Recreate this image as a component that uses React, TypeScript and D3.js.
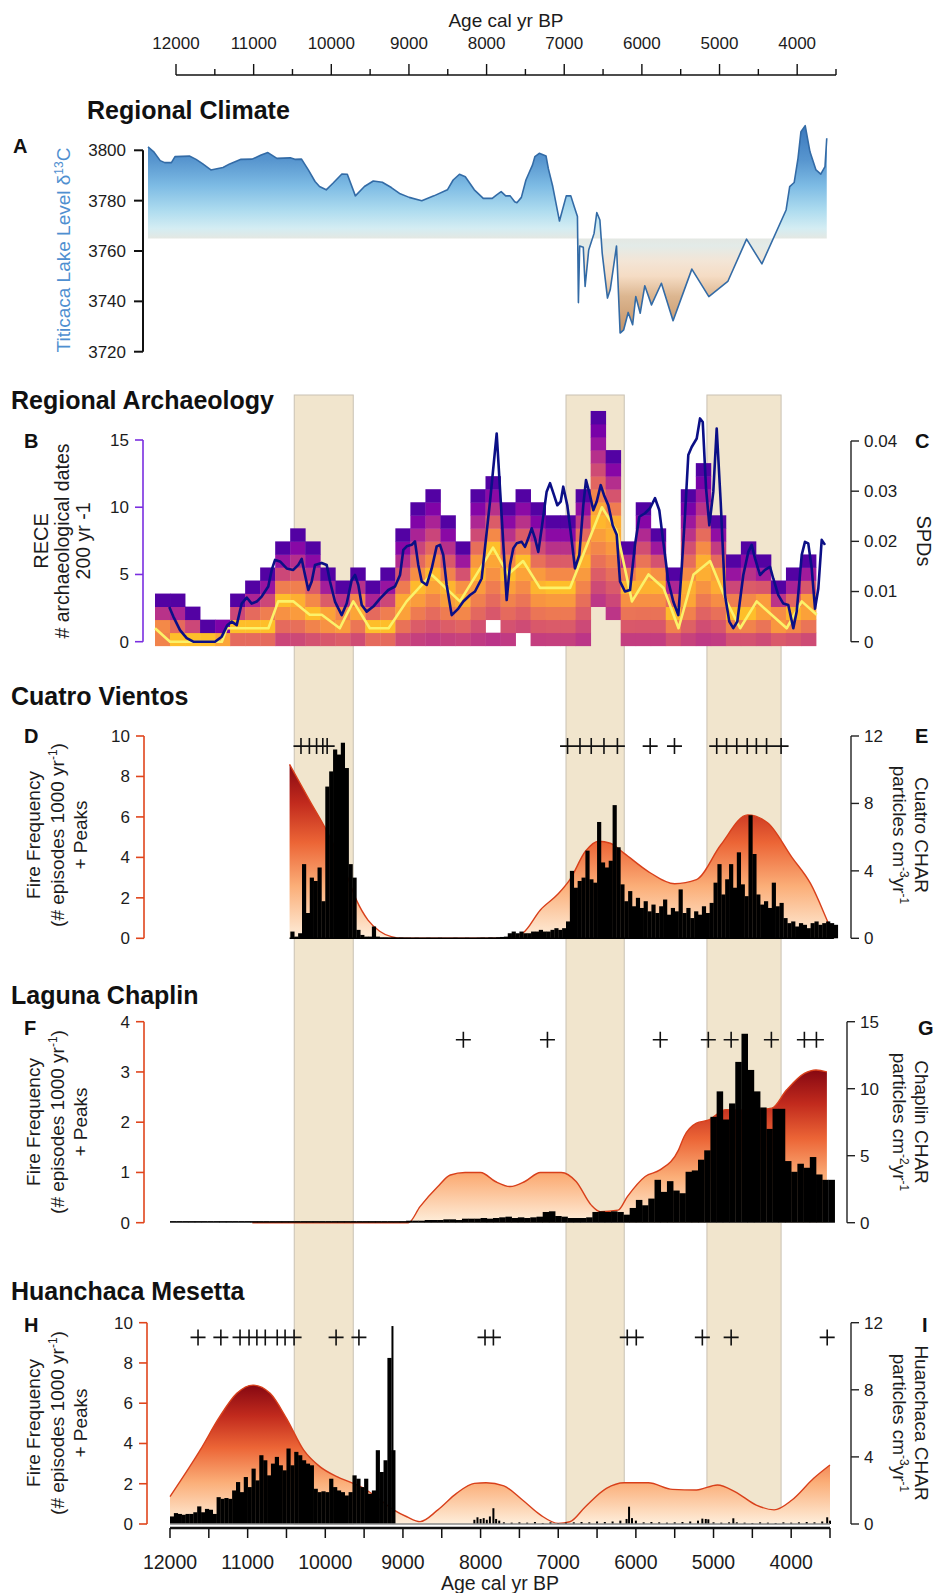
import * as d3 from "d3";

const FONT = "'Liberation Sans', Arial, Helvetica, sans-serif";

// ---------- shared age axis ----------
const ageMajor = [12000, 11000, 10000, 9000, 8000, 7000, 6000, 5000, 4000];
const ageMinor = [11500, 10500, 9500, 8500, 7500, 6500, 5500, 4500, 3500];

// shaded intervals (cal yr BP)
const bandAges = [
  [10400, 9640],
  [6900, 6150],
  [5085, 4130],
];

// ---------- A: Titicaca lake level ----------
const lakeAge = [
  12000, 11931, 11847, 11791, 11707, 11662, 11482, 11398, 11314, 11213, 11061, 10977, 10836, 10696, 10584,
  10499, 10386, 10219, 10162, 10078, 9993, 9909, 9853, 9769, 9685, 9573, 9505, 9404, 9291, 9180, 9067, 8954,
  8843, 8730, 8573, 8421, 8252, 8180, 8101, 8028, 7915, 7803, 7691, 7635, 7579, 7522, 7466, 7410, 7382, 7326,
  7269, 7224, 7186, 7157, 7102, 7017, 6989, 6933, 6849, 6764, 6707, 6664, 6624, 6612, 6596, 6551, 6528, 6483,
  6416, 6382, 6343, 6314, 6248, 6214, 6135, 6090, 6045, 5989, 5933, 5894, 5838, 5781, 5697, 5573, 5427, 5192,
  4979, 4742, 4507, 4315, 4012, 3967, 3911, 3863, 3826, 3773, 3713, 3638, 3578, 3525, 3503,
];
const lakeLevel = [
  3801.4, 3799.5, 3795.9, 3795.1, 3795.1, 3797.5, 3797.7, 3796.4, 3794.6, 3792.2, 3793.2, 3794.6, 3796.4,
  3796.5, 3798.1, 3799.1, 3796.8, 3797, 3796.4, 3796.5, 3792.2, 3787.6, 3785.6, 3784.3, 3786.9, 3790.6, 3790.5,
  3781.9, 3785.6, 3787.8, 3787.3, 3785.2, 3782.7, 3781.3, 3780, 3781.9, 3784.3, 3788.2, 3790.5, 3789.5, 3784.3,
  3780.9, 3780.9, 3782.3, 3783.6, 3781.9, 3781.9, 3779.6, 3779.2, 3781.3, 3788.2, 3791.5, 3794.2, 3797.5,
  3798.8, 3797.7, 3792.8, 3785.6, 3771.9, 3781.9, 3781.9, 3777.6, 3773.7, 3739.5, 3762, 3761.5, 3745.9, 3760.4,
  3767, 3775.3, 3772.3, 3759.1, 3741.3, 3744.6, 3762, 3727.4, 3728.7, 3735.6, 3730.7, 3741.9, 3735.3, 3746.2,
  3738.6, 3747.2, 3732.3, 3752.8, 3741.9, 3747.9, 3764.7, 3754.9, 3776.3, 3785.6, 3787.2, 3796.8, 3807.4,
  3809.8, 3799.4, 3792.2, 3790.5, 3793.5, 3804.8,
];
const lakeBase = 3765;
const lakeTicks = [3720, 3740, 3760, 3780, 3800];

// ---------- B/C: archaeology ----------
// RECE heat map: 200-yr bins from 12200 BP, number of stacked cells per bin
const recTop = [4, 4, 3, 2, 2, 4, 5, 6, 8, 9, 8, 6, 5, 6, 5, 6, 9, 11, 12, 10, 8, 12, 13, 11, 12, 11, 10, 10, 12, 18, 15, 8, 11, 9, 6, 12, 14, 10, 7, 8, 7, 5, 6, 7];
const recBase = [0, 0, 0, 0, 0, 0, 0, 0, 0, 0, 0, 0, 0, 0, 0, 0, 0, 0, 0, 0, 0, 0, 0, 0, 0, 0, 0, 0, 0, 3, 2, 0, 0, 0, 0, 0, 0, 0, 0, 0, 0, 0, 0, 0];
const recHoles = [
  [22, 1],
  [24, 0],
];
// median RECE (yellow)
const recMedAge = [12200, 12000, 11310, 11245, 10690, 10560, 10360, 10140, 9980, 9740, 9560, 9340, 9090, 8850, 8520, 8140, 7700, 7500, 7300, 7075, 6675, 6250, 6050, 5850, 5630, 5430, 5230, 5030, 4810, 4590, 4410, 4190, 3790, 3590, 3390];
const recMedVal = [1, 0, 0, 1, 1, 3, 3, 2, 2, 1, 3, 1, 1, 3, 5, 3, 7, 5, 6, 4, 4, 10, 8.2, 3, 5, 4, 1, 5, 6, 3, 1, 3, 1, 3, 2];
// summed probability distribution (navy)
const spdAge = [
  12010, 11956, 11867, 11778, 11690, 11401, 11312, 11237, 11179, 11112, 11046, 10979, 10913, 10846, 10780, 10692,
  10646, 10602, 10536, 10447, 10359, 10292, 10247, 10203, 10159, 10114, 10070, 9981, 9914, 9870, 9804, 9714, 9648,
  9581, 9537, 9493, 9448, 9382, 9294, 9205, 9094, 9005, 8938, 8894, 8849, 8783, 8739, 8695, 8649, 8583, 8516, 8450,
  8406, 8362, 8317, 8250, 8162, 8096, 8006, 7940, 7851, 7784, 7740, 7651, 7518, 7474, 7430, 7385, 7318, 7274, 7230,
  7185, 7141, 7097, 7052, 6986, 6941, 6888, 6844, 6799, 6765, 6711, 6666, 6609, 6551, 6498, 6462, 6409, 6365, 6320,
  6266, 6222, 6165, 6107, 6053, 6009, 5943, 5876, 5810, 5752, 5677, 5610, 5543, 5486, 5433, 5366, 5300, 5233, 5188,
  5144, 5100, 5055, 4988, 4944, 4908, 4864, 4820, 4767, 4722, 4669, 4612, 4554, 4501, 4448, 4368, 4301, 4256, 4212,
  4146, 4079, 4012, 3969, 3902, 3835, 3769, 3702, 3657, 3590, 3547, 3503, 3457, 3413, 3369, 3324, 3280,
];
const spdVal = [
  0.0069, 0.005, 0.0023, 0.0007, 0, 0, 0.001, 0.0033, 0.004, 0.0033, 0.0076, 0.0088, 0.0076, 0.008, 0.009, 0.011,
  0.0143, 0.0163, 0.016, 0.0146, 0.0143, 0.0153, 0.0165, 0.0133, 0.0103, 0.012, 0.0153, 0.0157, 0.0153, 0.012,
  0.008, 0.0053, 0.0076, 0.0123, 0.0133, 0.0113, 0.0073, 0.006, 0.007, 0.0086, 0.0103, 0.011, 0.0133, 0.0183,
  0.019, 0.0193, 0.02, 0.0153, 0.012, 0.0113, 0.0146, 0.019, 0.0193, 0.0173, 0.0113, 0.0053, 0.0066, 0.008,
  0.0093, 0.01, 0.0126, 0.0219, 0.0279, 0.0415, 0.0083, 0.0153, 0.0186, 0.0196, 0.0199, 0.0189, 0.0206, 0.0226,
  0.0206, 0.0179, 0.0226, 0.0299, 0.0316, 0.0292, 0.0272, 0.0279, 0.0309, 0.0272, 0.0219, 0.0146, 0.0173, 0.0272,
  0.0322, 0.0292, 0.0262, 0.0279, 0.0312, 0.0292, 0.0272, 0.0232, 0.0213, 0.012, 0.01, 0.0103, 0.0193, 0.0249,
  0.0256, 0.0266, 0.0286, 0.0262, 0.0199, 0.012, 0.008, 0.0053, 0.0146, 0.0252, 0.0372, 0.0388, 0.0405, 0.0445,
  0.0438, 0.0306, 0.0232, 0.0299, 0.0425, 0.0279, 0.0093, 0.004, 0.0027, 0.004, 0.0133, 0.0179, 0.0193, 0.0166,
  0.0133, 0.0143, 0.0149, 0.0126, 0.0093, 0.0076, 0.0073, 0.0027, 0.006, 0.0173, 0.0199, 0.0196, 0.0146, 0.0066,
  0.0106, 0.0203, 0.0193,
];

// ---------- D/E: Cuatro Vientos ----------
const cvStart = 10450;
const cvStep = 50;
const cvChar = [
  0.4, 0.1, 0.3, 4.4, 1.5, 3.6, 3.4, 4.2, 2.2, 9.0, 9.9, 11.2, 10.9, 11.6, 10.1, 4.4, 3.6, 0.5, 0.2, 0.1, 0.1, 0.7,
  0.1, 0.05, 0.05, 0.04, 0.05, 0.03, 0.04, 0.03, 0.03, 0.02, 0.03, 0.02, 0.02, 0.03, 0.02, 0.02, 0.03, 0.02, 0.02,
  0.02, 0.03, 0.02, 0.02, 0.03, 0.02, 0.02, 0.03, 0.04, 0.03, 0.05, 0.04, 0.06, 0.08, 0.1, 0.3, 0.4, 0.3, 0.4, 0.3,
  0.3, 0.4, 0.4, 0.5, 0.4, 0.4, 0.5, 0.6, 0.5, 0.6, 1.0, 4.0, 3.0, 3.4, 3.6, 5.2, 3.5, 3.3, 6.9, 4.5, 4.2, 4.6, 7.9,
  5.4, 3.2, 2.2, 2.8, 1.9, 2.4, 1.8, 2.2, 1.6, 2.0, 1.5, 1.9, 2.3, 1.4, 1.8, 1.6, 2.9, 1.5, 1.8, 1.2, 1.6, 1.4, 1.9,
  1.5, 2.1, 3.3, 4.4, 2.6, 3.5, 4.4, 3.0, 5.1, 3.2, 2.5, 7.3, 5.0, 2.6, 2.0, 2.2, 1.8, 3.3, 1.9, 2.1, 1.2, 0.9, 1.0,
  0.7, 0.9, 0.8, 0.6, 0.9, 1.0, 0.8, 0.9, 1.0, 0.9, 0.8,
];
const cvFfAge = [10460, 10200, 9980, 9750, 9600, 9450, 9300, 9150, 9000, 7700, 7460, 7230, 7000, 6850, 6650, 6480, 6330, 6150, 5840, 5500, 5220, 4910, 4560, 4300, 3990, 3750, 3520, 3470];
const cvFfVal = [8.6, 6.8, 5.3, 3.4, 1.9, 0.9, 0.35, 0.08, 0, 0, 0.25, 1.4, 2.2, 2.9, 4.3, 4.8, 4.7, 4.2, 3.3, 2.7, 2.9, 4.6, 6.1, 5.7, 4.0, 2.7, 0.74, 0.3];
const cvPeaks = [10313, 10205, 10112, 10032, 9976, 6880, 6720, 6575, 6411, 6238, 5816, 5503, 4959, 4832, 4701, 4566, 4448, 4317, 4130];

// ---------- F/G: Laguna Chaplin ----------
const chStart = 12000;
const chStep = 80;
const chChar = [
  0.12, 0.12, 0.12, 0.12, 0.12, 0.12, 0.12, 0.12, 0.12, 0.12, 0.12, 0.12, 0.12, 0.12, 0.12, 0.12, 0.12, 0.12,
  0.12, 0.12, 0.12, 0.12, 0.12, 0.12, 0.12, 0.12, 0.12, 0.12, 0.12, 0.12, 0.12, 0.12, 0.12, 0.12, 0.12, 0.12,
  0.12, 0.12, 0.15, 0.15, 0.15, 0.2, 0.2, 0.2, 0.25, 0.25, 0.2, 0.3, 0.3, 0.3, 0.35, 0.3, 0.35, 0.4, 0.45, 0.35,
  0.4, 0.35, 0.4, 0.45, 0.8, 0.85, 0.5, 0.45, 0.35, 0.35, 0.35, 0.4, 0.8, 0.85, 0.8, 0.85, 0.8, 0.6, 1.1, 1.7,
  1.3, 1.8, 3.2, 2.3, 3.1, 2.4, 2.2, 3.8, 3.9, 4.7, 5.4, 7.9, 9.8, 7.7, 8.9, 12.0, 14.1, 11.4, 9.8, 8.6, 7.0, 8.5,
  8.5, 4.6, 3.8, 4.4, 4.1, 4.9, 3.6, 3.2, 3.2,
];
const chFfAge = [10940, 8930, 8780, 8550, 8390, 8200, 8000, 7810, 7620, 7430, 7230, 6960, 6770, 6575, 6460, 6230, 6110, 5880, 5690, 5450, 5380, 5220, 5070, 4840, 4530, 4250, 4060, 3830, 3680, 3540];
const chFfVal = [0, 0, 0.32, 0.72, 0.95, 1.0, 1.0, 0.82, 0.72, 0.82, 1.0, 1.0, 0.82, 0.35, 0.22, 0.25, 0.52, 0.92, 1.05, 1.45, 1.71, 1.98, 2.04, 2.25, 2.24, 2.28, 2.64, 2.97, 3.04, 3.0];
const chPeaks = [8222, 7139, 5686, 5067, 4773, 4255, 3830, 3675];

// ---------- H/I: Huanchaca Mesetta ----------
const hmStart = 12000;
const hmStep = 50;
const hmChar = [
  0.45, 0.65, 0.6, 0.55, 0.6, 0.6, 0.7, 1.05, 0.7, 0.9, 0.85, 0.6, 1.6, 1.5, 1.55, 1.5, 2.0, 2.5, 1.9, 2.8, 2.2,
  3.3, 2.6, 4.1, 3.8, 2.9, 3.6, 4.0, 3.5, 3.2, 4.5, 3.5, 4.3, 4.1, 3.8, 3.6, 3.5, 2.1, 1.9, 1.95, 1.9, 2.7, 2.2,
  2.0, 1.9, 1.7, 1.9, 2.9, 2.7, 2.2, 2.7, 1.8, 2.0, 4.4, 3.1, 3.8, 9.9, 4.4,
];
const hmSpikeAge = [
  9135, 8080, 8040, 8000, 7960, 7920, 7880, 7835, 7800, 7760, 7700, 7600, 7500, 7400, 7300, 7200, 7100, 7000, 6900,
  6800, 6700, 6600, 6500, 6400, 6300, 6200, 6120, 6088, 6050, 6000, 5900, 5800, 5700, 5600, 5500, 5400, 5300, 5200,
  5144, 5100, 5067, 5000, 4900, 4800, 4745, 4700, 4600, 4500, 4400, 4300, 4200, 4100, 4000, 3900, 3800, 3700, 3600,
  3536, 3500,
];
const hmSpikeVal = [
  11.8, 0.25, 0.4, 0.3, 0.35, 0.25, 0.45, 0.94, 0.3, 0.2, 0.1, 0.08, 0.1, 0.08, 0.12, 0.06, 0.1, 0.05, 0.08, 0.1,
  0.12, 0.1, 0.15, 0.12, 0.15, 0.2, 0.3, 1.03, 0.35, 0.2, 0.1, 0.12, 0.1, 0.08, 0.1, 0.12, 0.15, 0.2, 0.32, 0.3,
  0.28, 0.1, 0.08, 0.1, 0.34, 0.1, 0.08, 0.06, 0.1, 0.08, 0.06, 0.1, 0.08, 0.1, 0.12, 0.1, 0.15, 0.4, 0.2,
];
const hmFfAge = [12000, 11610, 11360, 11140, 10930, 10710, 10500, 10280, 10070, 9850, 9640, 9470, 9290, 9120, 8950, 8780, 8550, 8310, 8080, 7930, 7700, 7460, 7230, 7000, 6850, 6650, 6380, 6150, 5840, 5530, 5220, 4950, 4720, 4450, 4220, 3990, 3710, 3500];
const hmFfVal = [1.36, 3.68, 5.33, 6.49, 6.9, 6.49, 5.25, 3.68, 2.85, 2.35, 2.02, 1.69, 1.19, 0.7, 0.36, 0.12, 0.7, 1.52, 2.02, 2.05, 1.89, 1.19, 0.45, 0.03, 0.11, 0.86, 1.77, 2.05, 2.05, 1.72, 1.69, 1.94, 1.6, 0.94, 0.7, 1.19, 2.27, 2.93];
const hmPeaks = [11639, 11345, 11098, 10982, 10881, 10773, 10619, 10518, 10402, 9861, 9567, 7943, 7835, 6111, 5995, 5144, 4773, 3536];

// ---------- scales ----------
const xTop = d3.scaleLinear([12000, 3500], [176, 836]);
const xBot = d3.scaleLinear([12000, 3500], [170, 830]);
const xA = d3.scaleLinear([12000, 3500], [148, 827]);
const xB = d3.scaleLinear([12200, 3400], [155, 816]);

const yA = d3.scaleLinear([3720, 3800], [351.7, 150.3]);
const yB = d3.scaleLinear([0, 15], [641.7, 440]);
const yC = d3.scaleLinear([0, 0.04], [641.7, 441]);
const yD = d3.scaleLinear([0, 10], [938.3, 736]);
const yE = d3.scaleLinear([0, 12], [938.3, 736]);
const yF = d3.scaleLinear([0, 4], [1222.7, 1021.7]);
const yG = d3.scaleLinear([0, 15], [1222.7, 1021.7]);
const yH = d3.scaleLinear([0, 10], [1524, 1322.7]);
const yI = d3.scaleLinear([0, 12], [1524, 1322.7]);

const ORANGE = "#e0451c";
const TXT = "#1c1c1c";

function LeftAxis({ x, scale, ticks, color, fmt }: any) {
  const [lo, hi] = scale.range();
  return (
    <g>
      <line x1={x} x2={x} y1={lo} y2={hi} stroke={color} strokeWidth={1.6} />
      {ticks.map((t: number) => (
        <g key={t}>
          <line x1={x - 8} x2={x} y1={scale(t)} y2={scale(t)} stroke={color} strokeWidth={1.6} />
          <text x={x - 14} y={scale(t)} dy="0.35em" textAnchor="end" fontSize={17} fill={TXT}>
            {fmt ? fmt(t) : t}
          </text>
        </g>
      ))}
    </g>
  );
}

function RightAxis({ x, scale, ticks, fmt }: any) {
  const [lo, hi] = scale.range();
  return (
    <g>
      <line x1={x} x2={x} y1={lo} y2={hi} stroke="#222" strokeWidth={1.4} />
      {ticks.map((t: number) => (
        <g key={t}>
          <line x1={x} x2={x + 8} y1={scale(t)} y2={scale(t)} stroke="#222" strokeWidth={1.4} />
          <text x={x + 13} y={scale(t)} dy="0.35em" fontSize={17} fill={TXT}>
            {fmt ? fmt(t) : t}
          </text>
        </g>
      ))}
    </g>
  );
}

function Plus({ ages, y }: { ages: number[]; y: number }) {
  const d = ages.map((a) => `M${xBot(a) - 7.5},${y}h15M${xBot(a)},${y - 8}v16`).join("");
  return <path d={d} stroke="#111" strokeWidth={1.6} fill="none" />;
}

function Bars({ start, step, vals, scale }: any) {
  return (
    <g fill="#000">
      {vals.map((v: number, i: number) => {
        const a = start - i * step;
        const x0 = xBot(a);
        const x1 = xBot(a - step);
        return <rect key={i} x={x0} y={scale(v)} width={x1 - x0 + 0.3} height={scale(0) - scale(v)} />;
      })}
    </g>
  );
}

function VLabel({ x, y, lines, size = 19, rot = -90, color = TXT }: any) {
  return (
    <text transform={`translate(${x},${y}) rotate(${rot})`} textAnchor="middle" fontSize={size} fill={color}>
      {lines}
    </text>
  );
}

export default function App() {
  const W = 936;
  const H = 1593;

  // panel A shapes
  const lakePts = lakeAge.map((a, i) => [a, lakeLevel[i]] as [number, number]);
  const lakeArea = d3
    .area<[number, number]>()
    .x((d) => xA(d[0]))
    .y0(yA(lakeBase))
    .y1((d) => yA(d[1]))(lakePts)!;
  const lakeLine = d3
    .line<[number, number]>()
    .x((d) => xA(d[0]))
    .y((d) => yA(d[1]))(lakePts)!;

  // panel B shapes
  const medScale = d3.scaleLinear(recMedAge, recMedVal).clamp(true);
  const cellU = 0.97;
  const cells: any[] = [];
  recTop.forEach((h, k) => {
    const a0 = 12200 - 200 * k;
    const a1 = a0 - 200;
    const med = medScale((a0 + a1) / 2);
    for (let j = recBase[k]; j < h; j++) {
      if (recHoles.some(([c, r]) => c === k && r === j)) continue;
      let t =
        j >= med
          ? 1 - ((j - med) / Math.max(1, h - 1 - med)) * 0.92
          : 1 - ((med - j) / (med - recBase[k] + 1)) * 0.62;
      t = Math.max(0, Math.min(1, t));
      cells.push(
        <rect
          key={`${k}-${j}`}
          x={xB(a0)}
          width={xB(a1) - xB(a0) + 0.4}
          y={yB(-0.3 + (j + 1) * cellU)}
          height={yB(-0.3 + j * cellU) - yB(-0.3 + (j + 1) * cellU) + 0.4}
          fill={d3.interpolatePlasma(0.08 + 0.78 * t)}
        />
      );
    }
  });
  const spdLine = d3
    .line<number>()
    .x((_, i) => xB(spdAge[i]))
    .y((d) => yC(d))(spdVal)!;
  const medLine = d3
    .line<number>()
    .x((_, i) => xB(recMedAge[i]))
    .y((d) => yB(d))(recMedVal)!;

  // fire frequency curves
  const ffArea = (ages: number[], vals: number[], y: any) =>
    d3
      .area<number>()
      .x((_, i) => xBot(ages[i]))
      .y0(y(0))
      .y1((d) => y(d))
      .curve(d3.curveMonotoneX)(vals)!;
  const ffLine = (ages: number[], vals: number[], y: any) =>
    d3
      .line<number>()
      .x((_, i) => xBot(ages[i]))
      .y((d) => y(d))
      .curve(d3.curveMonotoneX)(vals)!;

  const bandTop = 395;
  const bandBottom = 1524;

  const lakeGrad = [
    [3810, "#3a78bd"],
    [3796, "#5896cf"],
    [3786, "#7dbbe4"],
    [3776, "#aedcef"],
    [3769, "#d4edf3"],
    [3765, "#e4e8e3"],
    [3762, "#e3ebe8"],
    [3756, "#f3e5d6"],
    [3750, "#f5dcc4"],
    [3742, "#dcb690"],
    [3726, "#c18f62"],
  ];

  return (
    <svg
      width={W}
      height={H}
      viewBox={`0 0 ${W} ${H}`}
      style={{ position: "absolute", left: 0, top: 0, display: "block", background: "#fff" }}
      fontFamily={FONT}
    >
      <defs>
        <linearGradient id="lakeG" gradientUnits="userSpaceOnUse" x1={0} x2={0} y1={yA(3810)} y2={yA(3726)}>
          {lakeGrad.map(([v, c]) => (
            <stop key={v} offset={(3810 - (v as number)) / 84} stopColor={c as string} />
          ))}
        </linearGradient>
        <linearGradient id="fireG" x1={0} x2={0} y1={0} y2={1}>
          <stop offset={0} stopColor="#860812" />
          <stop offset={0.22} stopColor="#c12a1d" />
          <stop offset={0.45} stopColor="#ec6536" />
          <stop offset={0.7} stopColor="#fbae78" />
          <stop offset={1} stopColor="#feeedb" />
        </linearGradient>
      </defs>
      <rect width={W} height={H} fill="#fff" />

      {/* ---------- top age axis ---------- */}
      <text x={506} y={20} dy="0.35em" textAnchor="middle" fontSize={19} fill={TXT}>
        Age cal yr BP
      </text>
      <line x1={xTop(12000)} x2={xTop(3500)} y1={75} y2={75} stroke="#111" strokeWidth={1.6} />
      {ageMajor.map((a) => (
        <g key={a}>
          <line x1={xTop(a)} x2={xTop(a)} y1={75} y2={64} stroke="#111" strokeWidth={1.4} />
          <text x={xTop(a)} y={43} dy="0.35em" textAnchor="middle" fontSize={17} fill={TXT}>
            {a}
          </text>
        </g>
      ))}
      {ageMinor.map((a) => (
        <line key={a} x1={xTop(a)} x2={xTop(a)} y1={75} y2={69} stroke="#111" strokeWidth={1.4} />
      ))}

      {/* ---------- A ---------- */}
      <text x={87} y={119} fontSize={25} fontWeight="bold" fill="#111">
        Regional Climate
      </text>
      <text x={13} y={153} fontSize={20} fontWeight="bold" fill="#111">
        A
      </text>
      <path d={lakeArea} fill="url(#lakeG)" />
      <path d={lakeLine} fill="none" stroke="#336ba6" strokeWidth={1.6} strokeLinejoin="round" />
      <g>
        <line x1={143} x2={143} y1={yA(3720)} y2={yA(3800)} stroke="#111" strokeWidth={2} />
        {lakeTicks.map((t) => (
          <g key={t}>
            <line x1={134} x2={143} y1={yA(t)} y2={yA(t)} stroke="#111" strokeWidth={2} />
            <text x={126} y={yA(t)} dy="0.35em" textAnchor="end" fontSize={17} fill={TXT}>
              {t}
            </text>
          </g>
        ))}
      </g>
      <VLabel
        x={70}
        y={250}
        color="#4f8fd0"
        lines={
          <>
            Titicaca Lake Level δ
            <tspan baselineShift="super" fontSize={12}>
              13
            </tspan>
            C
          </>
        }
      />

      {/* ---------- bands ---------- */}
      {bandAges.map(([a0, a1]) => (
        <rect
          key={a0}
          x={xBot(a0)}
          y={bandTop}
          width={xBot(a1) - xBot(a0)}
          height={bandBottom - bandTop}
          fill="#f1e5cd"
          stroke="#c9c1b3"
          strokeWidth={1}
        />
      ))}

      {/* ---------- B / C ---------- */}
      <text x={11} y={409} fontSize={25} fontWeight="bold" fill="#111">
        Regional Archaeology
      </text>
      <text x={24} y={448} fontSize={20} fontWeight="bold" fill="#111">
        B
      </text>
      <text x={915} y={448} fontSize={20} fontWeight="bold" fill="#111">
        C
      </text>
      {cells}
      <path d={medLine} fill="none" stroke="#fbf26a" strokeWidth={2.6} strokeLinejoin="round" />
      <path d={spdLine} fill="none" stroke="#0b0f86" strokeWidth={2.6} strokeLinejoin="round" />
      <LeftAxis x={143} scale={yB} ticks={[0, 5, 10, 15]} color="#7a2ee0" />
      <RightAxis x={851} scale={yC} ticks={[0, 0.01, 0.02, 0.03, 0.04]} />
      <VLabel x={48} y={541} size={20} lines="RECE" />
      <VLabel x={69} y={541} size={19.5} lines="# archaeological dates" />
      <VLabel x={90} y={541} size={19.5} lines="200 yr -1" />
      <VLabel x={917} y={541} size={20} rot={90} lines="SPDs" />

      {/* ---------- D / E ---------- */}
      <text x={11} y={705} fontSize={25} fontWeight="bold" fill="#111">
        Cuatro Vientos
      </text>
      <text x={24} y={743} fontSize={20} fontWeight="bold" fill="#111">
        D
      </text>
      <text x={915} y={743} fontSize={20} fontWeight="bold" fill="#111">
        E
      </text>
      <path d={ffArea(cvFfAge, cvFfVal, yD)} fill="url(#fireG)" />
      <path d={ffLine(cvFfAge, cvFfVal, yD)} fill="none" stroke="#d8401b" strokeWidth={1.4} />
      <Bars start={cvStart} step={cvStep} vals={cvChar} scale={yE} />
      <line x1={xBot(10460)} x2={xBot(3450)} y1={yE(0)} y2={yE(0)} stroke="#000" strokeWidth={1.5} />
      <Plus ages={cvPeaks} y={yD(9.5)} />
      <LeftAxis x={144} scale={yD} ticks={[0, 2, 4, 6, 8, 10]} color={ORANGE} />
      <RightAxis x={851} scale={yE} ticks={[0, 4, 8, 12]} />
      <FireLabel y={835} />
      <CharLabel y={835} name="Cuatro CHAR" exp="-3" />

      {/* ---------- F / G ---------- */}
      <text x={11} y={1004} fontSize={25} fontWeight="bold" fill="#111">
        Laguna Chaplin
      </text>
      <text x={24} y={1035} fontSize={20} fontWeight="bold" fill="#111">
        F
      </text>
      <text x={918} y={1035} fontSize={20} fontWeight="bold" fill="#111">
        G
      </text>
      <path d={ffArea(chFfAge, chFfVal, yF)} fill="url(#fireG)" />
      <path d={ffLine(chFfAge, chFfVal, yF)} fill="none" stroke="#d8401b" strokeWidth={1.4} />
      <Bars start={chStart} step={chStep} vals={chChar} scale={yG} />
      <Plus ages={chPeaks} y={yF(3.64)} />
      <LeftAxis x={144} scale={yF} ticks={[0, 1, 2, 3, 4]} color={ORANGE} />
      <RightAxis x={847} scale={yG} ticks={[0, 5, 10, 15]} />
      <FireLabel y={1122} />
      <CharLabel y={1122} name="Chaplin  CHAR" exp="-2" />

      {/* ---------- H / I ---------- */}
      <text x={11} y={1300} fontSize={25} fontWeight="bold" fill="#111">
        Huanchaca Mesetta
      </text>
      <text x={24} y={1332} fontSize={20} fontWeight="bold" fill="#111">
        H
      </text>
      <text x={922} y={1332} fontSize={20} fontWeight="bold" fill="#111">
        I
      </text>
      <path d={ffArea(hmFfAge, hmFfVal, yH)} fill="url(#fireG)" />
      <path d={ffLine(hmFfAge, hmFfVal, yH)} fill="none" stroke="#d8401b" strokeWidth={1.4} />
      <Bars start={hmStart} step={hmStep} vals={hmChar} scale={yI} />
      <g fill="#000">
        {hmSpikeVal.map((v, i) => (
          <rect key={i} x={xBot(hmSpikeAge[i]) - 1} width={2} y={yI(v)} height={yI(0) - yI(v)} />
        ))}
      </g>
      <line x1={xBot(12000)} x2={xBot(3500)} y1={yI(0)} y2={yI(0)} stroke="#8a8a8a" strokeWidth={1.6} />
      <Plus ages={hmPeaks} y={yH(9.27)} />
      <LeftAxis x={147} scale={yH} ticks={[0, 2, 4, 6, 8, 10]} color={ORANGE} />
      <RightAxis x={851} scale={yI} ticks={[0, 4, 8, 12]} />
      <FireLabel y={1423} />
      <CharLabel y={1423} name="Huanchaca CHAR" exp="-3" />

      {/* ---------- bottom age axis ---------- */}
      <line x1={xBot(12000)} x2={xBot(3500)} y1={1528} y2={1528} stroke="#111" strokeWidth={2.4} />
      {[...ageMajor, ...ageMinor].map((a) => (
        <line key={a} x1={xBot(a)} x2={xBot(a)} y1={1528} y2={1538} stroke="#111" strokeWidth={1.5} />
      ))}
      {ageMajor.map((a) => (
        <text key={a} x={xBot(a)} y={1562} dy="0.35em" textAnchor="middle" fontSize={19.5} fill={TXT}>
          {a}
        </text>
      ))}
      <text x={500} y={1583} dy="0.35em" textAnchor="middle" fontSize={19.5} fill={TXT}>
        Age cal yr BP
      </text>
    </svg>
  );
}

function FireLabel({ y }: { y: number }) {
  return (
    <g>
      <VLabel x={40} y={y} size={19} lines="Fire Frequency" />
      <VLabel
        x={64}
        y={y}
        size={19}
        lines={
          <>
            (# episodes 1000 yr
            <tspan baselineShift="super" fontSize={12}>
              -1
            </tspan>
            )
          </>
        }
      />
      <VLabel x={87} y={y} size={19} lines="+ Peaks" />
    </g>
  );
}

function CharLabel({ y, name, exp }: { y: number; name: string; exp: string }) {
  return (
    <g>
      <VLabel x={915} y={y} size={19} rot={90} lines={name} />
      <VLabel
        x={893}
        y={y}
        size={19}
        rot={90}
        lines={
          <>
            particles cm
            <tspan baselineShift="super" fontSize={12}>
              {exp}
            </tspan>
            yr
            <tspan baselineShift="super" fontSize={12}>
              -1
            </tspan>
          </>
        }
      />
    </g>
  );
}
